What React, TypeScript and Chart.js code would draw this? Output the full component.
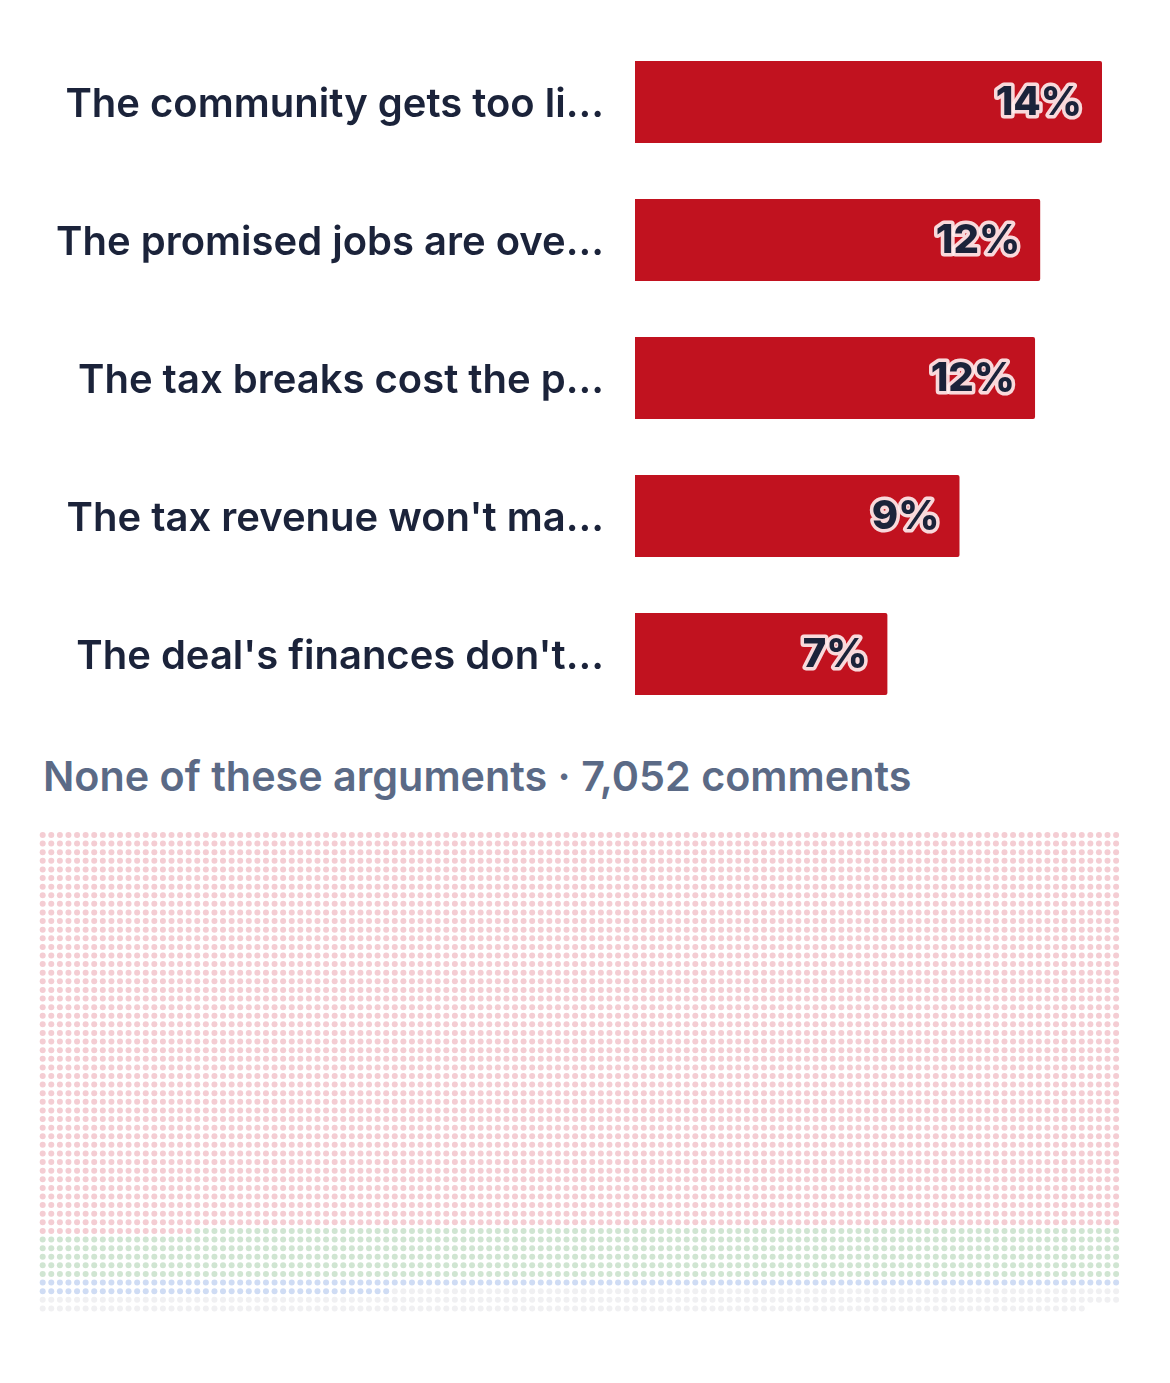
import React, { useEffect, useRef } from "react";
import { Chart, registerables } from "chart.js";

Chart.register(...registerables);

// ---- Data ----
const categories = [
  "The community gets too li...",
  "The promised jobs are ove...",
  "The tax breaks cost the p...",
  "The tax revenue won't ma...",
  "The deal's finances don't...",
];
const shares = [13.6, 11.8, 11.65, 9.45, 7.35];

const summaryLabel = "None of these arguments";
const totalComments = 7052;

const dotGroups = ["pink", "green", "blue", "gray"];
const dotCounts = [5814, 738, 167, 333];
const dotColors = ["#f4cdd3", "#d0e5d2", "#cfdcf4", "#f0f0f2"];
const gridColumns = 126;

const FONT = "Inter, 'Noto Sans', sans-serif";

const valueLabelPlugin = {
  id: "valueLabels",
  afterDatasetsDraw(chart: any) {
    const ctx = chart.ctx;
    const meta = chart.getDatasetMeta(0);
    ctx.save();
    ctx.font = `800 40px ${FONT}`;
    ctx.textAlign = "right";
    ctx.textBaseline = "middle";
    ctx.lineJoin = "round";
    meta.data.forEach((bar: any, i: number) => {
      const text = `${Math.round(shares[i])}%`;
      const x = bar.x - 20;
      const y = bar.y + 1;
      ctx.lineWidth = 7;
      ctx.strokeStyle = "rgba(255,240,240,0.9)";
      ctx.strokeText(text, x, y);
      ctx.fillStyle = "#1b233a";
      ctx.fillText(text, x, y);
    });
    ctx.restore();
  },
};

function BarChart() {
  const ref = useRef<HTMLCanvasElement>(null);
  useEffect(() => {
    const chart = new Chart(ref.current!, {
      type: "bar",
      data: {
        labels: categories,
        datasets: [
          {
            data: shares,
            backgroundColor: "#c1121f",
            borderWidth: 0,
            borderRadius: 2,
            borderSkipped: "start",
            barPercentage: 1,
            categoryPercentage: 82 / 138,
          },
        ],
      },
      options: {
        indexAxis: "y",
        responsive: false,
        animation: false,
        layout: { padding: { left: 0, right: 68, top: 33, bottom: 17 } },
        plugins: { legend: { display: false }, tooltip: { enabled: false } },
        scales: {
          x: {
            display: false,
            min: 0,
            max: Math.max(...shares),
          },
          y: {
            grid: { display: false },
            border: { display: false },
            ticks: {
              padding: 23,
              labelOffset: 3,
              color: "#1b233a",
              font: { family: FONT, size: 40, weight: "600" as any },
            },
            afterFit(scale: any) {
              scale.width = 635;
              scale.paddingTop = 0;
              scale.paddingBottom = 0;
            },
          },
        },
      },
      plugins: [valueLabelPlugin],
    });
    return () => chart.destroy();
  }, []);
  return (
    <canvas
      ref={ref}
      width={1170}
      height={740}
      style={{ position: "absolute", left: 0, top: 0, width: 1170, height: 740 }}
    />
  );
}

function DotGrid() {
  const ref = useRef<HTMLCanvasElement>(null);
  useEffect(() => {
    let index = 0;
    const datasets = dotGroups.map((g, gi) => {
      const pts: { x: number; y: number }[] = [];
      for (let k = 0; k < dotCounts[gi]; k++) {
        pts.push({ x: index % gridColumns, y: Math.floor(index / gridColumns) });
        index++;
      }
      return {
        label: g,
        data: pts,
        pointRadius: 3,
        pointHoverRadius: 3,
        pointBorderWidth: 0,
        backgroundColor: dotColors[gi],
        borderColor: dotColors[gi],
      };
    });
    const rows = Math.ceil(totalComments / gridColumns);
    const chart = new Chart(ref.current!, {
      type: "scatter",
      data: { datasets },
      options: {
        responsive: false,
        animation: false,
        layout: { padding: { left: 38.4, right: 1170 - 38.4 - 1082, top: 26.7, bottom: 540 - 26.7 - 482 } },
        plugins: { legend: { display: false }, tooltip: { enabled: false } },
        scales: {
          x: { display: false, min: -0.5, max: gridColumns - 0.5 },
          y: { display: false, min: -0.5, max: rows - 0.5, reverse: true },
        },
      },
    });
    return () => chart.destroy();
  }, []);
  return (
    <canvas
      ref={ref}
      width={1170}
      height={540}
      style={{ position: "absolute", left: 0, top: 804, width: 1170, height: 540 }}
    />
  );
}

export default function App() {
  return (
    <div
      style={{
        position: "absolute",
        left: 0,
        top: 0,
        width: 1170,
        height: 1383,
        background: "#ffffff",
        overflow: "hidden",
      }}
    >
      <BarChart />
      <div
        style={{
          position: "absolute",
          left: 43,
          top: 752,
          fontFamily: FONT,
          fontWeight: 600,
          fontSize: 41.3,
          lineHeight: "48px",
          color: "#5b6a86",
          whiteSpace: "nowrap",
        }}
      >
        {summaryLabel} · {totalComments.toLocaleString("en-US")} comments
      </div>
      <DotGrid />
    </div>
  );
}
